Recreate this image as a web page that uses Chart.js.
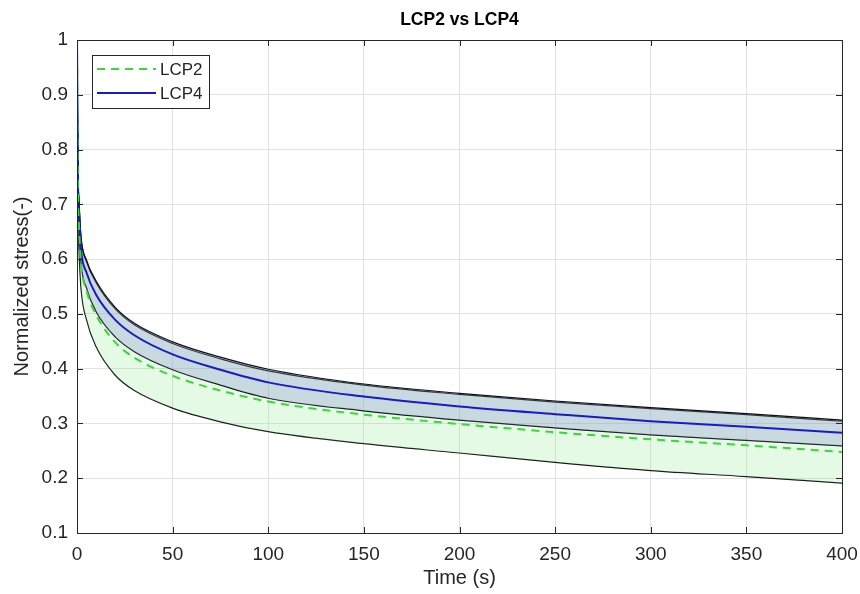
<!DOCTYPE html>
<html lang="en">
<head>
  <meta charset="UTF-8">
  <title>LCP2 vs LCP4</title>
  <script src="https://cdn.jsdelivr.net/npm/chart.js@4.4.0/dist/chart.umd.min.js"></script>
  <style>
    html, body { margin: 0; padding: 0; background: #fff; }
    canvas { display: block; }
  </style>
</head>
<body>
  <canvas id="stressChart" width="860" height="594"></canvas>
  <script>
    // time (s) and normalized stress
    const time  = [0, 0.5, 1, 2, 5, 10, 20, 30, 50, 75, 100, 150, 200, 250, 300, 350, 400];
    const lcp4Upper = [1, 0.76, 0.71, 0.645, 0.598, 0.560, 0.512, 0.483, 0.449, 0.421, 0.399, 0.372, 0.355, 0.341, 0.329, 0.318, 0.306];
    const lcp4Mean  = [1, 0.74, 0.69, 0.622, 0.575, 0.535, 0.489, 0.461, 0.426, 0.398, 0.375, 0.349, 0.331, 0.317, 0.304, 0.294, 0.283];
    const lcp4Lower = [1, 0.72, 0.67, 0.598, 0.547, 0.504, 0.458, 0.431, 0.398, 0.370, 0.346, 0.323, 0.306, 0.292, 0.279, 0.269, 0.259];
    const lcp2Upper = [1, 0.76, 0.71, 0.642, 0.595, 0.557, 0.509, 0.480, 0.446, 0.418, 0.396, 0.370, 0.353, 0.339, 0.327, 0.316, 0.304];
    const lcp2Mean  = [1, 0.72, 0.665, 0.596, 0.542, 0.498, 0.448, 0.420, 0.387, 0.360, 0.340, 0.316, 0.299, 0.284, 0.271, 0.260, 0.248];
    const lcp2Lower = [1, 0.68, 0.62, 0.550, 0.489, 0.440, 0.388, 0.360, 0.328, 0.303, 0.285, 0.263, 0.246, 0.229, 0.214, 0.203, 0.191];

    const xTicks = [0, 50, 100, 150, 200, 250, 300, 350, 400];
    const yTicks = [0.1, 0.2, 0.3, 0.4, 0.5, 0.6, 0.7, 0.8, 0.9, 1];

    const FONT = "'Liberation Sans', Arial, Helvetica, sans-serif";
    const AXIS = '#262626';

    const pts = arr => arr.map((v, i) => ({ x: time[i], y: v }));

    const line = (data, color, width, order, extra) => Object.assign({
      data: pts(data),
      borderColor: color,
      borderWidth: width,
      pointRadius: 0,
      cubicInterpolationMode: 'monotone',
      fill: false,
      order: order
    }, extra || {});

    // legend and matlab style box with inward ticks
    const frame = {
      id: 'frame',
      afterDatasetsDraw(chart) {
        const { ctx, chartArea: a, scales: { x, y } } = chart;
        ctx.save();
        ctx.strokeStyle = AXIS;
        ctx.lineWidth = 1;
        ctx.beginPath();
        xTicks.forEach(v => {
          const px = Math.round(x.getPixelForValue(v)) + 0.5;
          ctx.moveTo(px, a.bottom); ctx.lineTo(px, a.bottom - 6);
          ctx.moveTo(px, a.top); ctx.lineTo(px, a.top + 6);
        });
        yTicks.forEach(v => {
          const py = Math.round(y.getPixelForValue(v)) + 0.5;
          ctx.moveTo(a.left, py); ctx.lineTo(a.left + 6, py);
          ctx.moveTo(a.right, py); ctx.lineTo(a.right - 6, py);
        });
        ctx.stroke();
        ctx.strokeRect(Math.round(a.left) + 0.5, Math.round(a.top) + 0.5,
                       Math.round(a.right - a.left), Math.round(a.bottom - a.top));

        // legend
        const lx = 92, ly = 55, lw = 117, lh = 53;
        ctx.fillStyle = '#fff';
        ctx.fillRect(lx, ly, lw, lh);
        ctx.strokeStyle = AXIS;
        ctx.strokeRect(lx + 0.5, ly + 0.5, lw, lh);
        ctx.lineWidth = 2;
        ctx.strokeStyle = '#3ad63a';
        ctx.setLineDash([8, 6]);
        ctx.beginPath(); ctx.moveTo(97, 69); ctx.lineTo(156, 69); ctx.stroke();
        ctx.setLineDash([]);
        ctx.strokeStyle = '#1a1ac8';
        ctx.beginPath(); ctx.moveTo(97, 93); ctx.lineTo(156, 93); ctx.stroke();
        ctx.fillStyle = AXIS;
        ctx.font = '17px ' + FONT;
        ctx.textBaseline = 'middle';
        ctx.fillText('LCP2', 160, 70);
        ctx.fillText('LCP4', 160, 94);
        ctx.restore();
      }
    };

    new Chart(document.getElementById('stressChart'), {
      type: 'line',
      data: {
        datasets: [
          line(lcp2Mean, '#3ad63a', 2, 0, { label: 'LCP2', borderDash: [8, 6] }),
          line(lcp4Mean, '#1a1ac8', 2, 0, { label: 'LCP4' }),
          line(lcp4Upper, '#111', 1.2, 1, { fill: 3, backgroundColor: 'rgba(135,143,215,0.3)' }),
          line(lcp4Lower, '#111', 1.2, 1),
          line(lcp2Upper, '#111', 1.2, 2, { fill: 5, backgroundColor: 'rgba(120,230,120,0.2)' }),
          line(lcp2Lower, '#111', 1.2, 2)
        ]
      },
      options: {
        responsive: false,
        animation: false,
        events: [],
        layout: { padding: { right: 18 } },
        plugins: {
          legend: { display: false },
          tooltip: { enabled: false },
          title: {
            display: true,
            fullSize: false,
            text: 'LCP2 vs LCP4',
            color: '#000',
            font: { family: FONT, size: 17.5, weight: 'bold' },
            padding: { top: 10, bottom: 9 }
          }
        },
        scales: {
          x: {
            type: 'linear',
            min: 0,
            max: 400,
            afterBuildTicks: s => { s.ticks = xTicks.map(v => ({ value: v })); },
            afterFit: s => { s.height = 61; s.paddingLeft = 0; s.paddingRight = 0; },
            ticks: { color: AXIS, font: { family: FONT, size: 19 }, padding: 10, maxRotation: 0 },
            grid: { color: '#e2e2e2', drawTicks: false },
            border: { display: false },
            title: { display: true, text: 'Time (s)', color: AXIS, font: { family: FONT, size: 20 }, padding: { top: 2 } }
          },
          y: {
            min: 0.1,
            max: 1,
            afterBuildTicks: s => { s.ticks = yTicks.map(v => ({ value: v })); },
            afterFit: s => { s.width = 77; s.paddingTop = 0; s.paddingBottom = 0; },
            ticks: {
              color: AXIS,
              font: { family: FONT, size: 19 },
              padding: 9,
              callback: v => String(+v.toFixed(1))
            },
            grid: { color: '#e2e2e2', drawTicks: false },
            border: { display: false },
            title: { display: true, text: 'Normalized stress(-)', color: AXIS, font: { family: FONT, size: 20 }, padding: { top: 10 } }
          }
        }
      },
      plugins: [frame]
    });
  </script>
</body>
</html>
